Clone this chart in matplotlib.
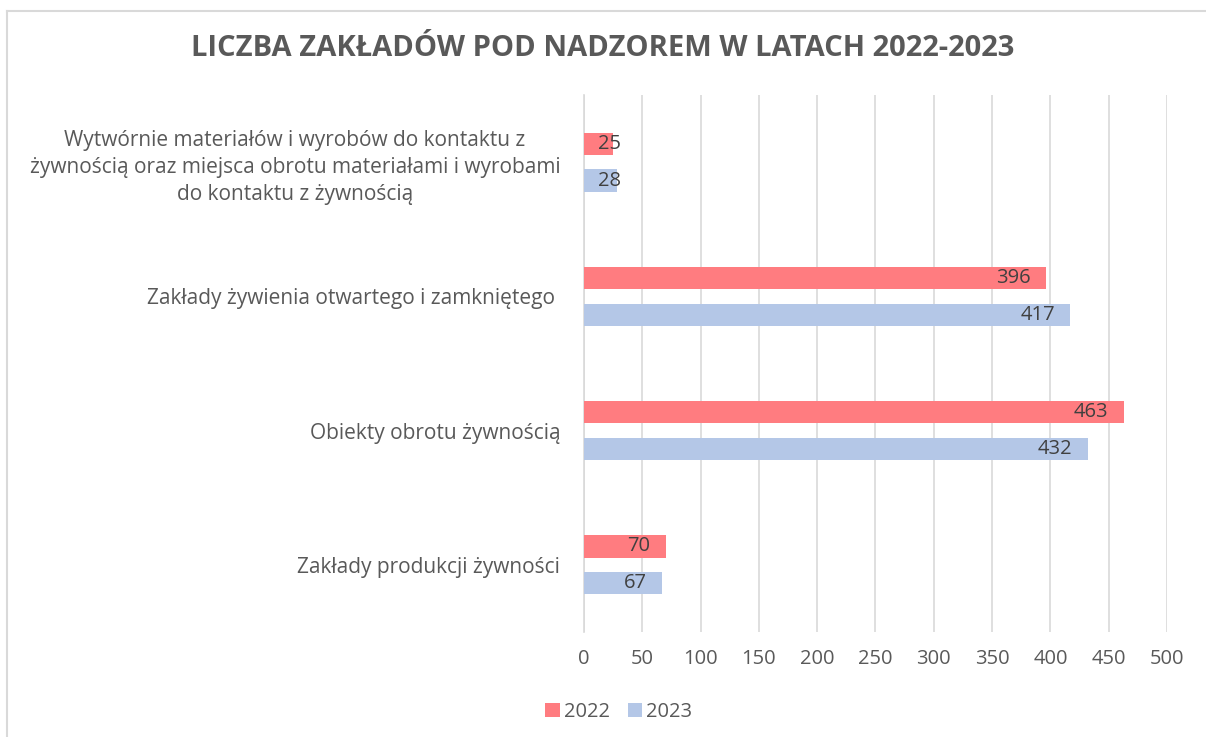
import matplotlib
matplotlib.use('Agg')
import matplotlib.pyplot as plt
from matplotlib.lines import Line2D
import numpy as np

plt.rcParams['font.family'] = ['Open Sans', 'DejaVu Sans']

# dane z wykresu (od góry)
categories = [
    "Wytwórnie materiałów i wyrobów do kontaktu z\nżywnością oraz miejsca obrotu materiałami i wyrobami\ndo kontaktu z żywnością",
    "Zakłady żywienia otwartego i zamkniętego ",
    "Obiekty obrotu żywnością",
    "Zakłady produkcji żywności",
]
values_2022 = [25, 396, 463, 70]
values_2023 = [28, 417, 432, 67]
series_names = ["2022", "2023"]
x_ticks = [0, 50, 100, 150, 200, 250, 300, 350, 400, 450, 500]

col_2022 = '#FF7C80'
col_2023 = '#B4C7E7'
txt = '#595959'
grid = '#D9D9D9'

fig = plt.figure(figsize=(12.06, 7.37), dpi=100)
ax = fig.add_axes([0.4842, 0.1425, 0.4835, 0.7286])

y = np.arange(len(categories))
h = 0.165
off = 0.137
b1 = ax.barh(y - off, values_2022, height=h, color=col_2022, label=series_names[0], zorder=3)
b2 = ax.barh(y + off, values_2023, height=h, color=col_2023, label=series_names[1], zorder=3)

for bars in (b1, b2):
    for rect in bars:
        v = rect.get_width()
        yc = rect.get_y() + rect.get_height() / 2
        if v < 50:
            ax.annotate(str(int(v)), (0, yc), xytext=(10, 0), textcoords='offset points',
                        ha='left', va='center', fontsize=14.5, color='#404040', zorder=4)
        else:
            ax.annotate(str(int(v)), (v, yc), xytext=(-11, 0), textcoords='offset points',
                        ha='right', va='center', fontsize=14.5, color='#404040', zorder=4)

ax.set_xlim(0, 500)
ax.set_ylim(3.5, -0.5)
ax.set_xticks(x_ticks)
ax.set_xticklabels([str(t) for t in x_ticks])
ax.set_yticks(y)
ax.set_yticklabels(categories, multialignment='center', linespacing=1.35)
ax.tick_params(axis='x', length=0, pad=12, labelsize=14.5, labelcolor=txt)
ax.tick_params(axis='y', length=0, pad=17, labelsize=15, labelcolor=txt)
ax.grid(axis='x', color=grid, linewidth=1.2, zorder=0)
for s in ['top', 'right', 'bottom']:
    ax.spines[s].set_visible(False)
ax.spines['left'].set_color(grid)
ax.spines['left'].set_linewidth(1.2)

fig.text(0.5, 0.934, "LICZBA ZAKŁADÓW POD NADZOREM W LATACH 2022-2023",
         ha='center', va='center', fontsize=21, fontweight='bold', color=txt)

fig.legend(handles=[b1, b2], labels=series_names, loc='center', bbox_to_anchor=(0.513, 0.034),
           ncol=2, frameon=False, fontsize=14.5, labelcolor=txt, handlelength=0.7,
           handleheight=0.7, handletextpad=0.2, columnspacing=0.9)

# ramka wykresu
fig.add_artist(Line2D([0.006, 1.0], [0.985, 0.985], color=grid, linewidth=1.5))
fig.add_artist(Line2D([0.006, 0.006], [0.0, 0.985], color=grid, linewidth=1.5))

fig.savefig('out.png', dpi=100)
